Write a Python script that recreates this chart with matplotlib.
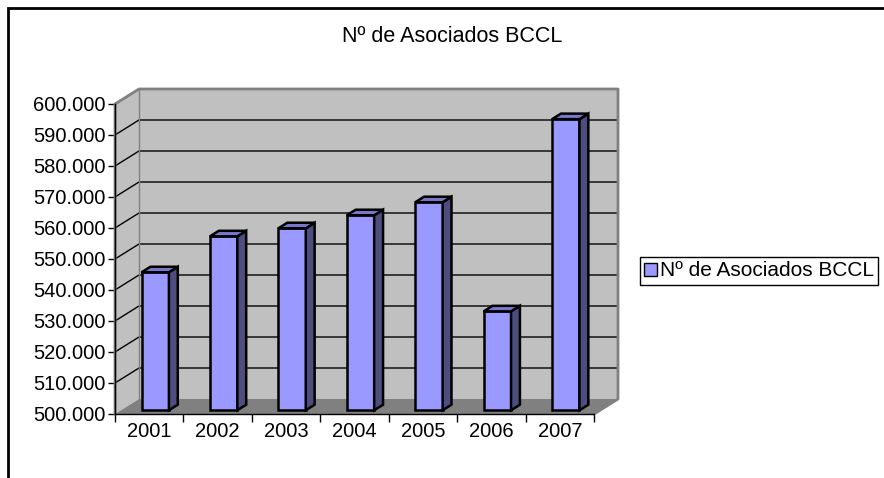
import matplotlib.pyplot as plt
from matplotlib.patches import Polygon, Rectangle, Patch

plt.rcParams['font.family'] = ['Liberation Sans', 'DejaVu Sans']

years = ["2001", "2002", "2003", "2004", "2005", "2006", "2007"]
socios = [544500, 556100, 558700, 562900, 567100, 531900, 593900]
ticks = list(range(500000, 600001, 10000))
tick_labels = [f"{t // 1000}.000" for t in ticks]
title = "Nº de Asociados BCCL"

W, H = 884, 478
fig = plt.figure(figsize=(W / 100, H / 100), dpi=100)

# front plane of the 3D box, in pixels
x0, x1 = 115, 594
ybot, ytop = 414, 104
ax = fig.add_axes([x0 / W, (H - ybot) / H, (x1 - x0) / W, (ybot - ytop) / H])
ax.set_xlim(-0.5, len(years) - 0.5)
ax.set_ylim(ticks[0], ticks[-1])
ax.patch.set_visible(False)

# depth offset (24 px right, 15 px up) in data units
px_x = (len(years)) / (x1 - x0)
px_y = (ticks[-1] - ticks[0]) / (ybot - ytop)
DX, DY = 24 * px_x, 15 * px_y

def P(x, v, f):
    return (x + f * DX, v + f * DY)

xl, xr = -0.5, len(years) - 0.5
lo, hi = ticks[0], ticks[-1]

def poly(pts, fc, ec='none', lw=0, z=1):
    ax.add_patch(Polygon(pts, closed=True, facecolor=fc, edgecolor=ec,
                         linewidth=lw, zorder=z, clip_on=False, joinstyle='miter'))

wall = '#c0c0c0'
# back wall
poly([P(xl, lo, 1), P(xr, lo, 1), P(xr, hi, 1), P(xl, hi, 1)], wall, z=1)
# side wall
poly([P(xl, lo, 0), P(xl, lo, 1), P(xl, hi, 1), P(xl, hi, 0)], wall, z=1)
# floor
poly([P(xl, lo, 0), P(xr, lo, 0), P(xr, lo, 1), P(xl, lo, 1)], '#808080', z=2)

# gridlines on back and side walls
for t in ticks[1:-1]:
    xs, ys = zip(P(xl, t, 0), P(xl, t, 1), P(xr, t, 1))
    ax.plot(xs, ys, color='black', lw=1, zorder=1.5, clip_on=False)

# wall outlines
xs, ys = zip(P(xl, lo, 0), P(xl, hi, 0), P(xl, hi, 1), P(xr, hi, 1), P(xr, lo, 1), P(xr, lo, 0))
ax.plot(xs, ys, color='#808080', lw=2, zorder=1.6, clip_on=False)
xs, ys = zip(P(xl, hi, 1), P(xl, lo, 1))
ax.plot(xs, ys, color='#808080', lw=1, zorder=1.6, clip_on=False)

# 3D bars
w = 0.2
f0, f1 = 0.25, 0.62
for i, v in enumerate(socios):
    a, b = i - w, i + w
    poly([P(a, lo, f0), P(b, lo, f0), P(b, v, f0), P(a, v, f0)], '#9999ff', 'black', 1.8, 3)
    poly([P(b, lo, f0), P(b, lo, f1), P(b, v, f1), P(b, v, f0)], '#4d4d80', 'black', 1.8, 3)
    poly([P(a, v, f0), P(b, v, f0), P(b, v, f1), P(a, v, f1)], '#7777cc', 'black', 1.8, 3)

# axes
for s in ['top', 'right']:
    ax.spines[s].set_visible(False)
ax.spines['left'].set_linewidth(1)
ax.spines['bottom'].set_linewidth(1)
ax.spines['left'].set_zorder(4)
ax.spines['bottom'].set_zorder(4)
ax.set_yticks(ticks)
ax.set_yticklabels(tick_labels, fontsize=14.5)
ax.tick_params(axis='y', direction='out', length=5, width=1, pad=2)
ax.set_xticks([i - 0.5 for i in range(len(years) + 1)])
ax.set_xticklabels([])
ax.set_xticks(range(len(years)), minor=True)
ax.set_xticklabels(years, minor=True, fontsize=14.5)
ax.tick_params(axis='x', which='major', direction='out', length=6, width=1)
ax.tick_params(axis='x', which='minor', length=0, pad=6)

fig.text(452 / W, 1 - 37 / H, title, ha='center', va='center', fontsize=15.5)

leg = fig.legend(handles=[Patch(facecolor='#9999ff', edgecolor='black', label=title)],
                 loc='center left', bbox_to_anchor=(640 / W, 1 - 271 / H),
                 fontsize=15, fancybox=False, framealpha=1, edgecolor='black',
                 handlelength=0.6, handleheight=0.6, handletextpad=0.15,
                 borderpad=0.2, borderaxespad=0)
leg.get_frame().set_linewidth(1)

# chart frame
fig.add_artist(Rectangle((8 / W, -0.1), 1.2, 1 - 8 / H + 0.1, transform=fig.transFigure,
                         fill=False, edgecolor='black', linewidth=2))

fig.savefig('out.png', dpi=100)
